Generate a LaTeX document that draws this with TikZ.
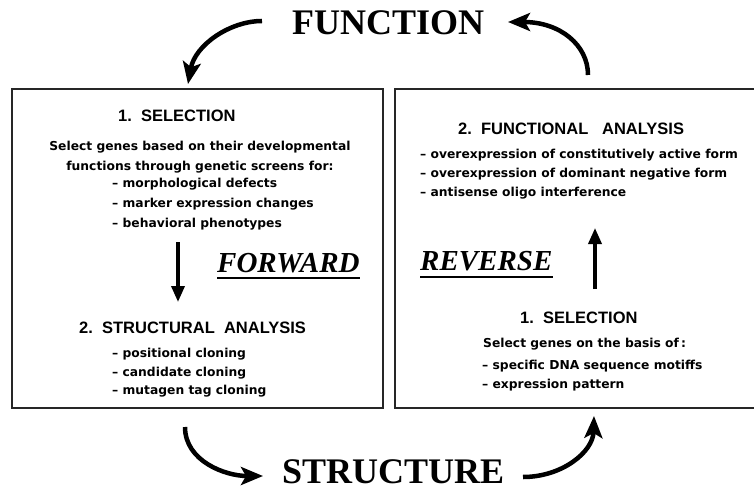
\documentclass[tikz,border=0pt]{standalone}
\usepackage{fontspec}
\setmainfont{Liberation Serif}
\newfontfamily\headfont{Liberation Sans}
\newfontfamily\bodyfont{DejaVu Sans}
\usetikzlibrary{arrows.meta}
\begin{document}
\begin{tikzpicture}[x=1pt,y=-1pt,
  box/.style={draw=black!85, line width=1.4pt},
  head/.style={font=\headfont\bfseries\fontsize{16.5}{18}\selectfont, inner sep=0pt, anchor=base west},
  bodyc/.style={font=\bodyfont\bfseries\fontsize{12.3}{15}\selectfont, inner sep=0pt, anchor=base},
  bodyl/.style={font=\bodyfont\bfseries\fontsize{12.3}{15}\selectfont, inner sep=0pt, anchor=base west},
  big/.style={font=\bfseries\fontsize{36}{40}\selectfont, inner sep=0pt, anchor=base west},
  dirword/.style={font=\bfseries\itshape\fontsize{29}{31}\selectfont, inner sep=0pt, anchor=base west},
  uline/.style={line width=2pt},
  cyc/.style={line width=4.5pt, -{Stealth[length=22pt,width=18pt,inset=5pt]}},
  inarrow/.style={line width=3.5pt, -{Triangle[length=16pt,width=13pt]}}]
\path[use as bounding box] (0,0) rectangle (754,489);
\clip (0,0) rectangle (754,489);
\fill[white] (0,0) rectangle (754,489);

% boxes
\draw[box] (12,89) rectangle (383,408);
\draw[box] (395,89) rectangle (770,408);

% big words
\node[big] (func) at (292,35) {FUNCTION};
\node[big] (struct) at (282,483) {STRUCTURE};

% left box
\node[head] (ls1) at (118,122) {1.\ \ SELECTION};
\node[bodyc] (lt1) at (200,151) {Select genes based on their developmental};
\node[bodyc] (lt2) at (200,171) {functions through genetic screens for:};
\node[bodyl] (lb1) at (112,187) {– morphological defects};
\node[bodyl] (lb2) at (112,207) {– marker expression changes};
\node[bodyl] (lb3) at (112,227) {– behavioral phenotypes};
\node[head] (ls2) at (79,333) {2.\ \ STRUCTURAL\ \ ANALYSIS};
\node[bodyl] (lc1) at (112,357) {– positional cloning};
\node[bodyl] (lc2) at (112,376) {– candidate cloning};
\node[bodyl] (lc3) at (112,394) {– mutagen tag cloning};
\node[dirword] (fwd) at (217,272) {FORWARD};
\draw[uline] ([yshift=-6pt]fwd.base west) -- ([yshift=-6pt]fwd.base east);

% right box
\node[head] (rs2) at (458,135) {2.\ \ FUNCTIONAL\ \ \ ANALYSIS};
\node[bodyl] (ra1) at (420,159) {– overexpression of constitutively active form};
\node[bodyl] (ra2) at (420,178) {– overexpression of dominant negative form};
\node[bodyl] (ra3) at (420,196) {– antisense oligo interference};
\node[head] (rs1) at (520,323) {1.\ \ SELECTION};
\node[bodyl] (rt1) at (483,347) {Select genes\ on the basis of\,:};
\node[bodyl] (rb1) at (482,369) {– specific DNA sequence motiffs};
\node[bodyl] (rb2) at (482,388) {– expression pattern};
\node[dirword] (rev) at (420,270) {REVERSE};
\draw[uline] ([yshift=-7pt]rev.base west) -- ([yshift=-7pt]rev.base east);

% inner arrows
\coordinate (dA) at (178,242);
\coordinate (dB) at (178,302);
\draw[inarrow] (dA) -- (dB);
\coordinate (uA) at (595,289);
\coordinate (uB) at (595,228);
\draw[inarrow] (uA) -- (uB);

% cycle arrows
\coordinate (t1) at (262,21);
\coordinate (h1) at (188,84);
\draw[cyc] (t1) .. controls (230,21) and (195,45) .. (h1);
\coordinate (t2) at (588,75);
\coordinate (h2) at (508,22);
\draw[cyc] (t2) .. controls (588,45) and (560,22) .. (h2);
\coordinate (t3) at (185,427);
\coordinate (h3) at (263,476);
\draw[cyc] (t3) .. controls (185,461) and (225,476) .. (h3);
\coordinate (t4) at (523,477);
\coordinate (h4) at (594,416);
\draw[cyc] (t4) .. controls (562,477) and (593,452) .. (h4);
\end{tikzpicture}
\end{document}
